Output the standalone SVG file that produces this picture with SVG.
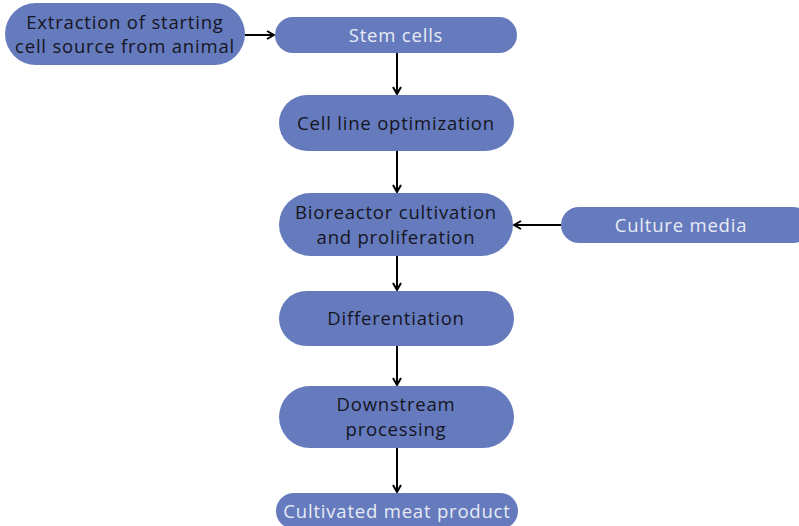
<svg xmlns="http://www.w3.org/2000/svg" width="799" height="526" viewBox="0 0 799 526">
  <style>
    .pill { fill: #657bbd; }
    .dark { font-family: "Open Sans", "Liberation Sans", sans-serif; font-size: 18.5px; letter-spacing: 0.8px; fill: #15151f; text-anchor: middle; }
    .light { font-family: "Open Sans", "Liberation Sans", sans-serif; font-size: 18.5px; letter-spacing: 0.8px; fill: #e8ebf5; text-anchor: middle; }
    .conn { stroke: #000; stroke-width: 2; fill: none; }
  </style>
  <defs>
    <marker id="head" viewBox="0 0 10 10" refX="9" refY="5" markerWidth="5" markerHeight="5" orient="auto" markerUnits="strokeWidth">
      <path d="M2,1 L9,5 L2,9" fill="none" stroke="#000" stroke-width="2" stroke-linejoin="miter"/>
    </marker>
  </defs>
  <rect width="799" height="526" fill="#ffffff"/>

  <g id="connectors">
    <line class="conn" x1="245" y1="35" x2="274" y2="35" marker-end="url(#head)"/>
    <line class="conn" x1="397" y1="53" x2="397" y2="94" marker-end="url(#head)"/>
    <line class="conn" x1="397" y1="151" x2="397" y2="192" marker-end="url(#head)"/>
    <line class="conn" x1="561" y1="225" x2="514" y2="225" marker-end="url(#head)"/>
    <line class="conn" x1="397" y1="256" x2="397" y2="290" marker-end="url(#head)"/>
    <line class="conn" x1="397" y1="346" x2="397" y2="385" marker-end="url(#head)"/>
    <line class="conn" x1="397" y1="448" x2="397" y2="492" marker-end="url(#head)"/>
  </g>

  <g id="extraction">
    <rect class="pill" x="5" y="3" width="240" height="62" rx="31"/>
    <text class="dark" x="125" y="29">Extraction of starting</text>
    <text class="dark" x="125" y="53">cell source from animal</text>
  </g>
  <g id="stem-cells">
    <rect class="pill" x="275" y="17" width="242" height="36" rx="18"/>
    <text class="light" x="396" y="42">Stem cells</text>
  </g>
  <g id="cell-line">
    <rect class="pill" x="279" y="95" width="235" height="56" rx="28"/>
    <text class="dark" x="396" y="130">Cell line optimization</text>
  </g>
  <g id="bioreactor">
    <rect class="pill" x="279" y="193" width="234" height="63" rx="31.5"/>
    <text class="dark" x="396" y="219">Bioreactor cultivation</text>
    <text class="dark" x="396" y="244">and proliferation</text>
  </g>
  <g id="culture-media">
    <rect class="pill" x="561" y="207" width="250" height="36" rx="18"/>
    <text class="light" x="681" y="232">Culture media</text>
  </g>
  <g id="differentiation">
    <rect class="pill" x="279" y="291" width="235" height="55" rx="27.5"/>
    <text class="dark" x="396" y="325">Differentiation</text>
  </g>
  <g id="downstream">
    <rect class="pill" x="279" y="386" width="235" height="62" rx="31"/>
    <text class="dark" x="396" y="411">Downstream</text>
    <text class="dark" x="396" y="436">processing</text>
  </g>
  <g id="product">
    <rect class="pill" x="276" y="493" width="242" height="36" rx="18"/>
    <text class="light" x="397" y="518">Cultivated meat product</text>
  </g>
</svg>
